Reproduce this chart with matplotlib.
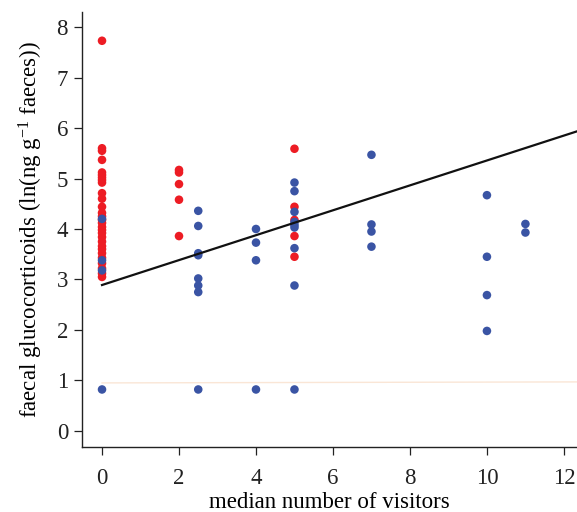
import matplotlib
matplotlib.use("Agg")
import matplotlib.pyplot as plt

plt.rcParams['font.family'] = ['Liberation Serif', 'DejaVu Serif']
plt.rcParams['mathtext.fontset'] = 'custom'
plt.rcParams['mathtext.rm'] = 'Liberation Serif'
plt.rcParams['mathtext.default'] = 'regular'

# red group
red_x = [0] * 29 + [2, 2, 2, 2, 2] + [5, 5, 5, 5, 5]
red_y = [7.73, 5.60, 5.55, 5.37, 5.12, 5.07, 5.02, 4.97, 4.92, 4.71, 4.60,
         4.44, 4.32, 4.25, 4.18, 4.12, 4.04, 3.98, 3.92, 3.84, 3.75, 3.66,
         3.60, 3.52, 3.43, 3.32, 3.22, 3.12, 3.05,
         5.17, 5.12, 4.89, 4.58, 3.86,
         5.59, 4.44, 4.18, 3.86, 3.45]

# blue group
blue_x = [0, 0, 0, 0,
          2.5, 2.5, 2.5, 2.5, 2.5, 2.5, 2.5, 2.5,
          4, 4, 4, 4,
          5, 5, 5, 5, 5, 5, 5, 5, 5,
          7, 7, 7, 7,
          10, 10, 10, 10,
          11, 11]
blue_y = [4.20, 3.38, 3.18, 0.82,
          4.36, 4.06, 3.52, 3.48, 3.02, 2.88, 2.75, 0.82,
          4.00, 3.73, 3.38, 0.82,
          4.92, 4.75, 4.34, 4.14, 4.08, 4.03, 3.62, 2.88, 0.82,
          5.47, 4.09, 3.95, 3.65,
          4.67, 3.45, 2.69, 1.98,
          4.10, 3.93]

# fitted line and faint reference line
fit_x = [0, 12.4]
fit_y = [2.89, 5.95]
ref_x = [0, 12.4]
ref_y = [0.95, 0.97]

fig = plt.figure(figsize=(5.77, 5.12), dpi=100)
ax = fig.add_axes([82 / 577, 1 - 447 / 512, 1 - 82 / 577, (447 - 12) / 512])

ax.plot(ref_x, ref_y, color='#fae6d6', lw=1.0, zorder=1)
ax.scatter(red_x, red_y, s=38, color='#ed1c24', edgecolors='none', zorder=2)
ax.scatter(blue_x, blue_y, s=38, color='#3a54a4', edgecolors='none', zorder=3)
ax.plot(fit_x, fit_y, color='#111111', lw=1.6, zorder=4)

ax.set_xlim(-0.52, 12.34)
ax.set_ylim(-0.32, 8.3)
ax.set_xticks([0, 2, 4, 6, 8, 10, 12])
ax.set_yticks(range(9))
ax.spines['top'].set_visible(False)
ax.spines['right'].set_visible(False)
for s in ['left', 'bottom']:
    ax.spines[s].set_linewidth(1.0)
    ax.spines[s].set_color('#222222')
ax.tick_params(direction='out', length=6, width=0.9, labelsize=16.5, colors='#222222')
ax.tick_params(axis='y', pad=4)
ax.tick_params(axis='x', pad=9)

ax.set_xlabel('median number of visitors', fontsize=16.5, labelpad=2)
ax.set_ylabel('faecal glucocorticoids (ln(ng g$^{-1}$ faeces))', fontsize=16.5, labelpad=8)

fig.savefig('out.png', dpi=100)
